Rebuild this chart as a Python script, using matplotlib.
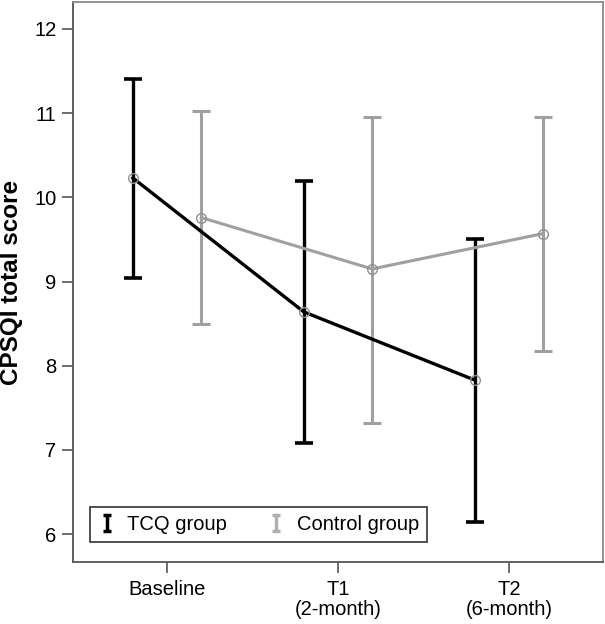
import matplotlib
matplotlib.use('Agg')
import matplotlib.pyplot as plt
import numpy as np
from matplotlib.lines import Line2D
from matplotlib.path import Path

plt.rcParams['font.family'] = ['Liberation Sans', 'DejaVu Sans']

# data
timepoints = ['Baseline', 'T1\n(2-month)', 'T2\n(6-month)']
tcq_mean = [10.23, 8.64, 7.83]
tcq_upper = [11.40, 10.19, 9.51]
tcq_lower = [9.04, 7.08, 6.14]
ctrl_mean = [9.76, 9.15, 9.57]
ctrl_upper = [11.02, 10.95, 10.96]
ctrl_lower = [8.50, 7.32, 8.18]

black = '#000000'
grey = '#a0a0a0'

fig = plt.figure(figsize=(6.05, 6.24), dpi=100)
ax = fig.add_axes([0.1207, 0.0994, 0.876, 0.8974])

x = np.arange(len(timepoints))
offset = 0.2


def draw_group(xpos, mean, lower, upper, color):
    mean = np.array(mean)
    yerr = [mean - np.array(lower), np.array(upper) - mean]
    ax.errorbar(xpos, mean, yerr=yerr, fmt='none', ecolor=color,
                elinewidth=2.4 if color == black else 2.2, capsize=6.5,
                capthick=2.6 if color == black else 2.2, zorder=2)
    ax.plot(xpos, mean, color=color, lw=2.4 if color == black else 2.2, zorder=3)
    ax.plot(xpos, mean, 'o', ms=7, mfc='none', mec='#909090', mew=1.0, zorder=4)


draw_group(x + offset, ctrl_mean, ctrl_lower, ctrl_upper, grey)
draw_group(x - offset, tcq_mean, tcq_lower, tcq_upper, black)

ax.set_xlim(-0.55, 2.55)
ax.set_ylim(5.67, 12.32)
ax.set_xticks(x)
ax.set_xticklabels(timepoints, fontsize=14.5, linespacing=1.05)
ax.set_yticks([6, 7, 8, 9, 10, 11, 12])
ax.tick_params(axis='both', direction='out', length=8, width=1.2,
               color='#555555', labelsize=14.5)
ax.tick_params(axis='x', pad=5)
ax.tick_params(axis='y', pad=4)

for side in ['left', 'bottom']:
    ax.spines[side].set_color('#555555')
    ax.spines[side].set_linewidth(1.3)
for side in ['top', 'right']:
    ax.spines[side].set_color('#8a8a8a')
    ax.spines[side].set_linewidth(1.3)

ax.set_ylabel('CPSQI total score', fontsize=17.5, fontweight='bold', labelpad=8)

# small I-beam icons for the legend
ibeam = Path([(-0.5, 1), (0.5, 1), (0, 1), (0, -1), (-0.5, -1), (0.5, -1)],
             [Path.MOVETO, Path.LINETO, Path.MOVETO, Path.LINETO,
              Path.MOVETO, Path.LINETO])
handles = [
    Line2D([], [], ls='none', marker=ibeam, ms=11, mew=2.5, color=black),
    Line2D([], [], ls='none', marker=ibeam, ms=11, mew=2.5, color='#b0b0b0'),
]
leg = ax.legend(handles, ['TCQ group', 'Control group'], ncol=2,
                loc='lower left', bbox_to_anchor=(0.032, 0.036),
                fontsize=14.5, frameon=True, fancybox=False,
                handlelength=0.9, handletextpad=0.55, columnspacing=2.0,
                borderpad=0.4, borderaxespad=0)
leg.get_frame().set_edgecolor('#000000')
leg.get_frame().set_linewidth(1.2)

fig.savefig('out.png', dpi=100)
